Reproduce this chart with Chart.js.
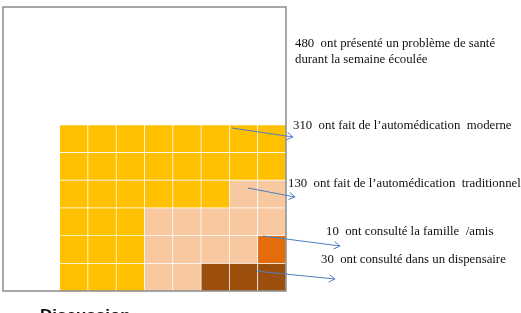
<!DOCTYPE html>
<html>
<head>
<meta charset="utf-8">
<script src="https://cdn.jsdelivr.net/npm/chart.js@4.4.1/dist/chart.umd.min.js"></script>
<style>
  html, body { margin: 0; padding: 0; width: 521px; height: 313px; overflow: hidden; background: #fff; }
  #wrap { position: relative; width: 521px; height: 313px; overflow: hidden; }
  canvas { position: absolute; left: 0; top: 0; }
  .note { position: absolute; font-family: "Liberation Serif", "Times New Roman", serif; font-size: 12.8px; line-height: 16px; color: #111; white-space: pre; }
  #disc { position: absolute; left: 40px; top: 307px; font-family: "Liberation Sans", Arial, sans-serif; font-weight: bold; font-size: 17px; line-height: 17px; color: #111; }
</style>
</head>
<body>
<div id="wrap">
  <canvas id="waffle" width="521" height="313"></canvas>
  <div class="note" style="left:295px; top:35px;">480  ont présenté un problème de santé
durant la semaine écoulée</div>
  <div class="note" style="left:293px; top:117px;">310  ont fait de l’automédication  moderne</div>
  <div class="note" style="left:288px; top:175px;">130  ont fait de l’automédication  traditionnelle</div>
  <div class="note" style="left:326px; top:223px;">10  ont consulté la famille  /amis</div>
  <div class="note" style="left:321px; top:251px;">30  ont consulté dans un dispensaire</div>
  <div id="disc">Discussion</div>
</div>
<script>
/* DATA */
const categories = ["Automédication moderne", "Automédication traditionnelle", "Famille / amis", "Dispensaire"];
const counts = [310, 130, 10, 30]; // 1 cell = 10 persons, 480 in total
const colors = ["#FFC000", "#F8C9A0", "#E46C0A", "#9C4E0C"];
const columns = ["1", "2", "3", "4", "5", "6", "7", "8", "9", "10"];

// waffle cells, top row first (-1 = empty, otherwise category index)
const gridRows = [
  [-1, -1, 0, 0, 0, 0, 0, 0, 0, 0],
  [-1, -1, 0, 0, 0, 0, 0, 0, 0, 0],
  [-1, -1, 0, 0, 0, 0, 0, 0, 1, 1],
  [-1, -1, 0, 0, 0, 1, 1, 1, 1, 1],
  [-1, -1, 0, 0, 0, 1, 1, 1, 1, 2],
  [-1, -1, 0, 0, 0, 1, 1, 3, 3, 3]
];

/* DATASETS - one per row, each cell a floating bar */
const datasets = gridRows.map((row, i) => {
  const level = gridRows.length - 1 - i;
  return {
    label: "row " + (i + 1),
    data: row.map(c => c < 0 ? null : [level, level + 1]),
    backgroundColor: row.map(c => c < 0 ? "rgba(0,0,0,0)" : colors[c]),
    borderColor: "#ffffff",
    borderWidth: 0.7,
    borderSkipped: false,
    grouped: false,
    barPercentage: 1,
    categoryPercentage: 1
  };
});

/* BOX + ARROWS */
const boxPlugin = {
  id: "box",
  afterDraw(chart) {
    const { ctx, chartArea: a } = chart;
    ctx.save();
    ctx.strokeStyle = "#8a8a8a";
    ctx.lineWidth = 1.5;
    ctx.strokeRect(a.left, a.top, a.right - a.left, a.bottom - a.top);

    const arrows = [
      [232, 128, 293, 137],
      [248, 188, 295, 197],
      [263, 236, 340, 246],
      [255, 271, 335, 279]
    ];
    ctx.strokeStyle = "#4F7FC0";
    ctx.lineWidth = 1;
    arrows.forEach(([x1, y1, x2, y2]) => {
      ctx.beginPath();
      ctx.moveTo(x1, y1);
      ctx.lineTo(x2, y2);
      ctx.stroke();
      const ang = Math.atan2(y2 - y1, x2 - x1);
      const len = 7;
      ctx.beginPath();
      ctx.moveTo(x2 - len * Math.cos(ang - 0.55), y2 - len * Math.sin(ang - 0.55));
      ctx.lineTo(x2, y2);
      ctx.lineTo(x2 - len * Math.cos(ang + 0.55), y2 - len * Math.sin(ang + 0.55));
      ctx.stroke();
    });
    ctx.restore();
  }
};

new Chart(document.getElementById("waffle").getContext("2d"), {
  type: "bar",
  data: { labels: columns, datasets: datasets },
  options: {
    responsive: false,
    animation: false,
    layout: { padding: { left: 3, top: 7, right: 235, bottom: 22 } },
    scales: {
      x: { display: false, offset: true, grid: { display: false } },
      y: { display: false, min: 0, max: 10.25, grid: { display: false } }
    },
    plugins: {
      legend: { display: false },
      tooltip: { enabled: false }
    }
  },
  plugins: [boxPlugin]
});
</script>
</body>
</html>
